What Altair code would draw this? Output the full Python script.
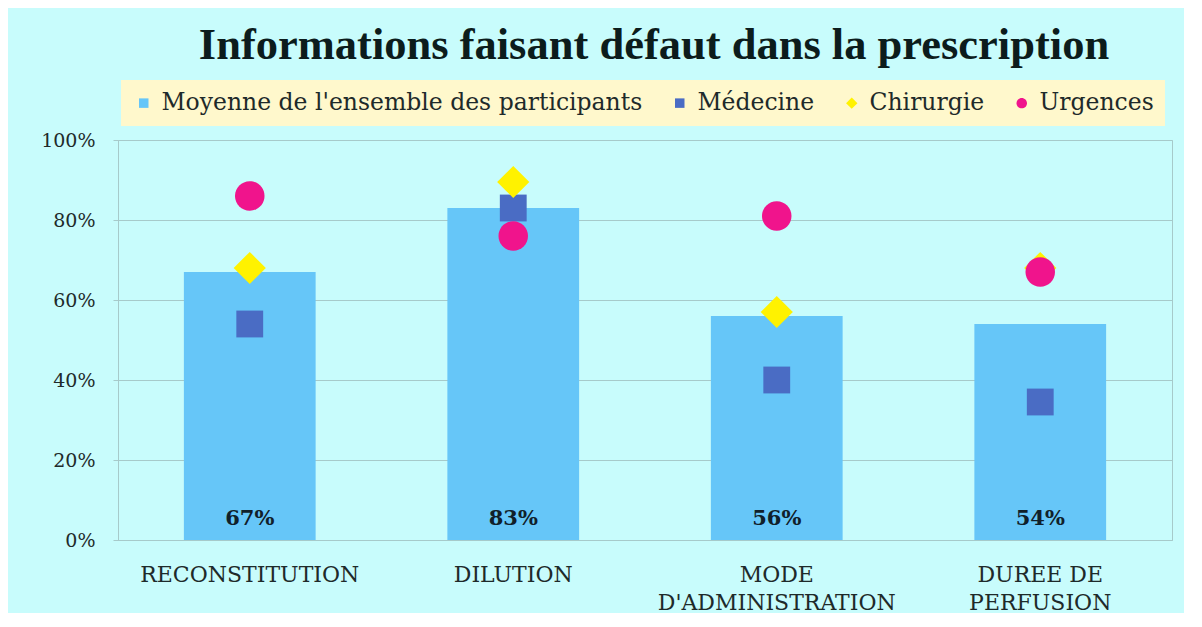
import altair as alt
import pandas as pd

categories = ["RECONSTITUTION", "DILUTION", "MODE|D'ADMINISTRATION", "DUREE DE|PERFUSION"]
series_names = ["Moyenne de l'ensemble des participants", "Médecine", "Chirurgie", "Urgences"]
moyenne = [0.67, 0.83, 0.56, 0.54]
medecine = [0.54, 0.83, 0.40, 0.345]
chirurgie = [0.68, 0.895, 0.57, 0.68]
urgences = [0.86, 0.76, 0.81, 0.67]
bar_labels = ["67%", "83%", "56%", "54%"]

series_colors = ["#66C6F8", "#4A6CC4", "#FFF200", "#F0148C"]
series_shapes = [
    "square",
    "square",
    "M0,-1.2L1.2,0L0,1.2L-1.2,0Z",
    "M1.1,0A1.1,1.1,0,1,1,-1.1,0A1.1,1.1,0,1,1,1.1,0Z",
]

FONT = "DejaVu Serif"
TITLE_FONT = "Liberation Serif"

bar_df = pd.DataFrame({"cat": categories, "value": moyenne, "label": bar_labels})
rows = []
for name, vals in [(series_names[1], medecine), (series_names[2], chirurgie), (series_names[3], urgences)]:
    for c, v in zip(categories, vals):
        rows.append({"cat": c, "value": v, "serie": name})
pts_df = pd.DataFrame(rows)

x_enc = alt.X("cat:N", sort=categories, title=None,
              scale=alt.Scale(paddingInner=0.5, paddingOuter=0.25),
              axis=alt.Axis(labelExpr="split(datum.label, '|')", labelAngle=0,
                            labelFontSize=22, labelFont=FONT, labelColor="#1E2A2A",
                            labelPadding=24, ticks=False, domainColor="#A6CACA",
                            labelLineHeight=28, labelLimit=0))
y_enc = alt.Y("value:Q", title=None,
              scale=alt.Scale(domain=[0, 1]),
              axis=alt.Axis(format=".0%", values=[0, 0.2, 0.4, 0.6, 0.8, 1.0],
                            labelFontSize=19, labelFont=FONT, labelColor="#1E2A2A",
                            labelPadding=18, tickSize=5, tickColor="#A6CACA",
                            domainColor="#A6CACA", gridColor="#A6CACA"))

bars = alt.Chart(bar_df).mark_bar(color="#66C6F8").encode(x=x_enc, y=y_enc)

texts = alt.Chart(bar_df).mark_text(font=FONT, fontSize=21, fontWeight="bold",
                                    color="#10202A", dy=-21).encode(
    x=alt.X("cat:N", sort=categories), y=alt.datum(0), text="label:N")

leg = alt.Legend(orient="none", direction="horizontal", legendX=3, legendY=-60)
points = alt.Chart(pts_df).mark_point(filled=True, opacity=1, size=720).encode(
    x=alt.X("cat:N", sort=categories),
    y="value:Q",
    color=alt.Color("serie:N", title=None,
                    scale=alt.Scale(domain=series_names, range=series_colors),
                    legend=leg),
    shape=alt.Shape("serie:N", title=None,
                    scale=alt.Scale(domain=series_names, range=series_shapes),
                    legend=leg),
)

chart = alt.layer(bars, texts, points).properties(
    width=1054, height=400,
    title=alt.Title("Informations faisant défaut dans la prescription",
                    font=TITLE_FONT, fontSize=44.5, fontWeight="bold", color="#0C1C1C",
                    anchor="middle", offset=12, dx=9),
    padding={"left": 32, "right": 12, "top": 14, "bottom": 0},
    background="#C8FCFC",
).configure_view(stroke="#A6CACA", strokeWidth=1).configure_legend(
    fillColor="#FFF8CC", padding=11, labelFont=FONT, labelFontSize=23.5,
    labelColor="#1E2A2A", symbolSize=90, columnPadding=25, labelLimit=0,
    symbolStrokeWidth=0, labelOffset=6,
)

chart.save("out.html", embed_options={"renderer": "svg", "actions": False})
